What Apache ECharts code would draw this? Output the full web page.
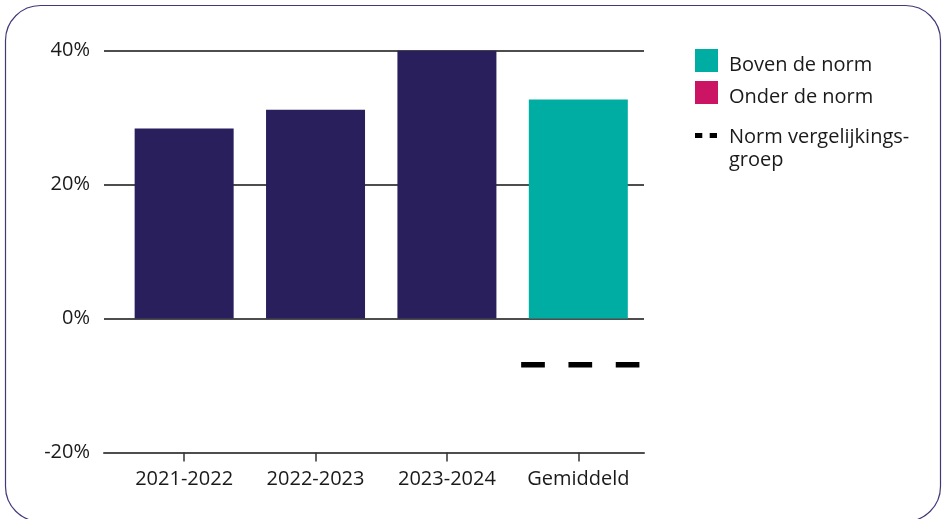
<!DOCTYPE html>
<html>
<head>
<meta charset="utf-8">
<script src="https://cdn.jsdelivr.net/npm/echarts@6/dist/echarts.min.js"></script>
<style>
html,body{margin:0;padding:0;background:#fff;}
#c{width:942px;height:519px;}
</style>
</head>
<body>
<div id="c"></div>
<script>
// ---- data ----
var categories = ['2021-2022', '2022-2023', '2023-2024', 'Gemiddeld'];
var yearValues = [28.4, 31.2, 40.0, null];      // navy bars
var aboveNorm = [null, null, null, 32.7];       // "Boven de norm"
var belowNorm = [null, null, null, null];       // "Onder de norm"
var normValues = [null, null, null, -6.9];      // "Norm vergelijkingsgroep"
var yTicks = [-20, 0, 20, 40];

var FONT = '"Open Sans", "Noto Sans", sans-serif';
var TEXT = '#1a1a1a';

function pairs(arr) {
  return arr.map(function (v, i) { return [i, v]; });
}

var chart = echarts.init(document.getElementById('c'), null, { renderer: 'canvas' });

var option = {
  backgroundColor: '#ffffff',
  animation: false,
  textStyle: { fontFamily: FONT },
  graphic: [{
    type: 'rect',
    shape: { x: 5.5, y: 5.5, width: 935, height: 516, r: 35 },
    style: { fill: 'none', stroke: '#3f3978', lineWidth: 1.2 },
    silent: true,
    z: -1
  }],
  grid: { left: 104, right: 298, top: 50.7, bottom: 66.5, containLabel: false },
  legend: [{
    orient: 'vertical',
    left: 695,
    top: 49,
    padding: 0,
    itemWidth: 29,
    itemHeight: 33,
    itemGap: -1,
    selectedMode: false,
    data: [
      { name: 'Boven de norm', icon: 'path://M0,0h23v23h-23z M28.9,32.9h0.1v0.1h-0.1z' },
      { name: 'Onder de norm', icon: 'path://M0,0h23v23h-23z M28.9,32.9h0.1v0.1h-0.1z' }
    ],
    textStyle: { fontFamily: FONT, fontSize: 20, color: TEXT }
  }, {
    orient: 'vertical',
    left: 695,
    top: 126,
    padding: 0,
    itemWidth: 29,
    itemHeight: 32,
    selectedMode: false,
    data: [
      { name: 'Norm vergelijkingsgroep', icon: 'path://M0,0h7.3v5h-7.3z M14.7,0h7.3v5h-7.3z M28.9,31.9h0.1v0.1h-0.1z',
        itemStyle: { color: '#000' } }
    ],
    formatter: function () { return 'Norm vergelijkings-\ngroep'; },
    textStyle: { fontFamily: FONT, fontSize: 20, color: TEXT, lineHeight: 23 }
  }],
  xAxis: {
    type: 'value',
    min: -0.61,
    max: 3.5,
    axisLine: { show: true, onZero: false, lineStyle: { color: '#4d4d4d', width: 2 } },
    axisTick: { show: true, customValues: [0, 1, 2, 3], length: 9, lineStyle: { color: '#333', width: 1.5 } },
    splitLine: { show: false },
    axisLabel: {
      customValues: [0, 1, 2, 3],
      margin: 17,
      fontFamily: FONT, fontSize: 20, color: TEXT,
      formatter: function (v) { return categories[Math.round(v)]; }
    }
  },
  yAxis: {
    type: 'value',
    min: -20,
    max: 40,
    interval: 20,
    axisLine: { show: false },
    axisTick: { show: false },
    splitLine: { show: true, lineStyle: { color: '#4d4d4d', width: 2 } },
    axisLabel: {
      margin: 14,
      padding: [5, 0, 0, 0],
      fontFamily: FONT, fontSize: 20, color: TEXT,
      formatter: function (v) { return yTicks.indexOf(v) >= 0 ? v + '%' : ''; }
    }
  },
  series: [{
    name: 'Jaren',
    type: 'bar',
    stack: 'one',
    barWidth: 99,
    itemStyle: { color: '#281f5c' },
    data: pairs(yearValues)
  }, {
    name: 'Boven de norm',
    type: 'bar',
    stack: 'one',
    barWidth: 99,
    itemStyle: { color: '#00ada2' },
    data: pairs(aboveNorm)
  }, {
    name: 'Onder de norm',
    type: 'bar',
    stack: 'one',
    barWidth: 99,
    itemStyle: { color: '#cc1465' },
    data: pairs(belowNorm)
  }, {
    name: 'Norm vergelijkingsgroep',
    type: 'custom',
    itemStyle: { color: '#000' },
    data: pairs(normValues).filter(function (d) { return d[1] != null; }),
    renderItem: function (params, api) {
      var c = api.coord([api.value(0), api.value(1)]);
      var bw = api.size([1, 0])[0];
      return {
        type: 'line',
        shape: { x1: c[0] - 0.435 * bw, y1: c[1], x2: c[0] + 0.465 * bw, y2: c[1] },
        style: { stroke: '#000', lineWidth: 5.5, lineDash: [23.7, 23.6] }
      };
    },
    z: 5
  }]
};

chart.setOption(option);
</script>
</body>
</html>
